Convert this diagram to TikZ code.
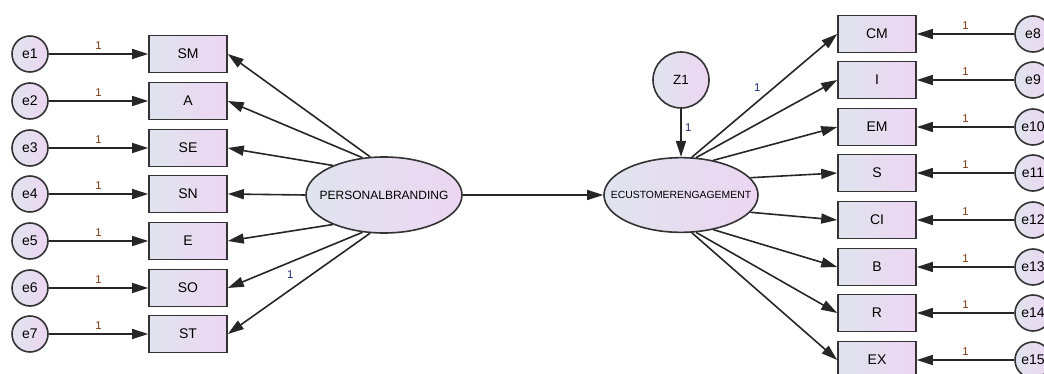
\documentclass[tikz,border=0pt]{standalone}
\usepackage{fontspec}
\setmainfont{Liberation Sans}
\usetikzlibrary{arrows.meta,shapes.geometric}

\definecolor{amosleft}{HTML}{E0E4EE}
\definecolor{amosright}{HTML}{ECD6F2}
\definecolor{amosedge}{HTML}{333333}
\definecolor{wtcol}{HTML}{7A3A14}
\definecolor{pathcol}{HTML}{1E2E6E}

\tikzset{every picture/.style={line width=1.2pt}}
\tikzset{
  obsnode/.style={draw=amosedge, left color=amosleft, right color=amosright, minimum width=58.5pt, minimum height=27.75pt, inner sep=0pt, font=\fontsize{10.5}{12}\selectfont},
  errnode/.style={circle, draw=amosedge, left color=amosleft, right color=amosright, minimum size=27pt, inner sep=0pt, font=\fontsize{10.5}{12}\selectfont},
  latnode/.style={ellipse, draw=amosedge, left color=amosleft, right color=amosright, inner sep=0pt},
  regarrow/.style={-{Triangle[length=12pt,width=7.5pt]}, draw=black!85},
  wlabel/.style={font=\fontsize{8.5}{9}\selectfont, text=wtcol, inner sep=2.5pt},
  plabel/.style={font=\fontsize{8.5}{9}\selectfont, text=pathcol, inner sep=2.5pt},
}

\begin{document}
\begin{tikzpicture}[x=0.75pt,y=0.75pt,yscale=-1,xscale=1]

\useasboundingbox (0,0) rectangle (1044,374);

% latent variables
\node (pb) [latnode, minimum width=117pt, minimum height=57pt, font=\fontsize{9}{11}\selectfont] at (384,195) {\makebox[0pt]{PERSONALBRANDING}};
\node (ce) [latnode, minimum width=115.5pt, minimum height=56pt, font=\fontsize{7.8}{9}\selectfont] at (681,195) {\makebox[0pt]{ECUSTOMERENGAGEMENT}};
\node (z1) [errnode, minimum size=42pt, font=\fontsize{10}{11}\selectfont] at (681,80) {Z1};

% left indicators
\node (sm) [obsnode] at (188,54) {SM};
\node (a) [obsnode] at (188,101) {A};
\node (se) [obsnode] at (188,148) {SE};
\node (sn) [obsnode] at (188,194) {SN};
\node (e) [obsnode] at (188,241) {E};
\node (so) [obsnode] at (188,288) {SO};
\node (st) [obsnode] at (188,334) {ST};

\node (e1) [errnode] at (30,54) {e1};
\node (e2) [errnode] at (30,101) {e2};
\node (e3) [errnode] at (30,148) {e3};
\node (e4) [errnode] at (30,194) {e4};
\node (e5) [errnode] at (30,241) {e5};
\node (e6) [errnode] at (30,288) {e6};
\node (e7) [errnode] at (30,334) {e7};

% right indicators
\node (cm) [obsnode] at (877,34) {CM};
\node (i) [obsnode] at (877,80) {I};
\node (em) [obsnode] at (877,127) {EM};
\node (s) [obsnode] at (877,173) {S};
\node (ci) [obsnode] at (877,220) {CI};
\node (b) [obsnode] at (877,267) {B};
\node (r) [obsnode] at (877,313) {R};
\node (ex) [obsnode] at (877,360) {EX};

\node (e8) [errnode] at (1033,34) {e8};
\node (e9) [errnode] at (1033,80) {e9};
\node (e10) [errnode] at (1033,127) {e10};
\node (e11) [errnode] at (1033,173) {e11};
\node (e12) [errnode] at (1033,220) {e12};
\node (e13) [errnode] at (1033,267) {e13};
\node (e14) [errnode] at (1033,313) {e14};
\node (e15) [errnode] at (1033,360) {e15};

% errors to indicators
\draw [regarrow] (e1) -- node [wlabel, above] {1} (sm);
\draw [regarrow] (e2) -- node [wlabel, above] {1} (a);
\draw [regarrow] (e3) -- node [wlabel, above] {1} (se);
\draw [regarrow] (e4) -- node [wlabel, above] {1} (sn);
\draw [regarrow] (e5) -- node [wlabel, above] {1} (e);
\draw [regarrow] (e6) -- node [wlabel, above] {1} (so);
\draw [regarrow] (e7) -- node [wlabel, above] {1} (st);

\draw [regarrow] (e8) -- node [wlabel, above] {1} (cm);
\draw [regarrow] (e9) -- node [wlabel, above] {1} (i);
\draw [regarrow] (e10) -- node [wlabel, above] {1} (em);
\draw [regarrow] (e11) -- node [wlabel, above] {1} (s);
\draw [regarrow] (e12) -- node [wlabel, above] {1} (ci);
\draw [regarrow] (e13) -- node [wlabel, above] {1} (b);
\draw [regarrow] (e14) -- node [wlabel, above] {1} (r);
\draw [regarrow] (e15) -- node [wlabel, above] {1} (ex);

% loadings
\draw [regarrow] (pb.110) -- (sm.east);
\draw [regarrow] (pb.120) -- (a.east);
\draw [regarrow] (pb.150) -- (se.east);
\draw [regarrow] (pb.180) -- (sn.east);
\draw [regarrow] (pb.210) -- (e.east);
\draw [regarrow] (pb.240) -- (so.east);
\draw [regarrow] (pb.250) -- node [plabel, above left=1pt, pos=0.5] {1} (st.east);

\draw [regarrow] (ce.74) -- node [plabel, above left=0pt, pos=0.5] {1} (cm.west);
\draw [regarrow] (ce.68) -- (i.west);
\draw [regarrow] (ce.47) -- (em.west);
\draw [regarrow] (ce.14) -- (s.west);
\draw [regarrow] (ce.-14) -- (ci.west);
\draw [regarrow] (ce.-47) -- (b.west);
\draw [regarrow] (ce.-68) -- (r.west);
\draw [regarrow] (ce.-74) -- (ex.west);

% structural path
\draw [regarrow] (pb) -- (ce);
\draw [regarrow] (z1) -- node [plabel, right, pos=0.4] {1} (ce);

\end{tikzpicture}
\end{document}
